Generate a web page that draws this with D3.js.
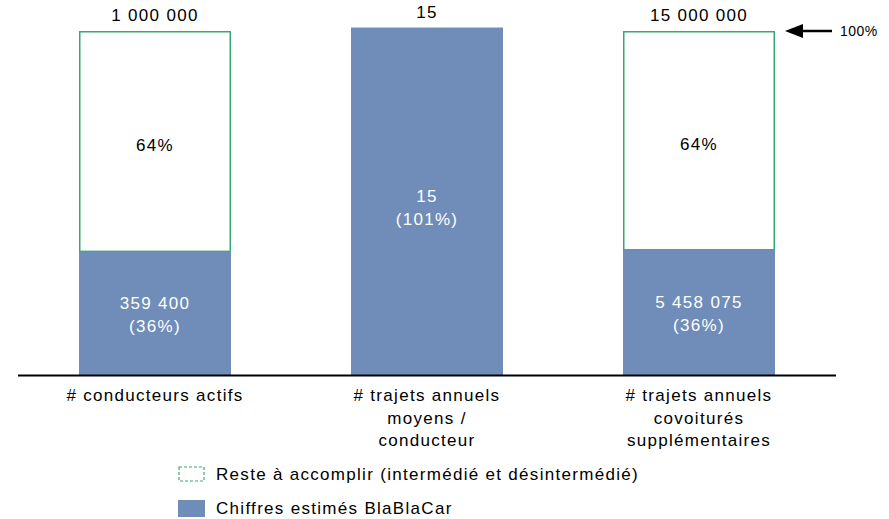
<!DOCTYPE html>
<html><head><meta charset="utf-8">
<script src="https://cdn.jsdelivr.net/npm/d3@7"></script>
<style>body{margin:0;background:#fff}text{font-family:"Liberation Sans",Arial,sans-serif;letter-spacing:1.3px}</style>
</head><body><svg id="c" width="889" height="519"></svg>
<script>
const categories = [["# conducteurs actifs"], ["# trajets annuels", "moyens /", "conducteur"], ["# trajets annuels", "covoiturés", "supplémentaires"]];
const targetLabels = ["1 000 000", "15", "15 000 000"];
const estimatedPct = [35.94, 101, 36.39];
const estimatedLabels = ["359 400", "15", "5 458 075"];
const estimatedPctLabels = ["(36%)", "(101%)", "(36%)"];
const remainingPct = [64.06, 0, 63.61];
const remainingLabels = ["64%", null, "64%"];
const legendItems = ["Reste à accomplir (intermédié et désintermédié)", "Chiffres estimés BlaBlaCar"];

const svg = d3.select("#c");
const blue = "#6f8db8", green = "#36a872";
const xb = d3.scalePoint().domain(d3.range(3)).range([155, 699]);
const bw = 152;
const y = d3.scaleLinear().domain([0, 100]).range([375, 31]);

svg.selectAll("rect.rem").data(remainingPct.map((v,i)=>({v,i})).filter(d=>d.v>0)).join("rect")
  .attr("x", d=>xb(d.i)-bw/2+0.75).attr("width", bw-1.5)
  .attr("y", d=>y(estimatedPct[d.i]+d.v)+0.75).attr("height", d=>y(estimatedPct[d.i])-y(estimatedPct[d.i]+d.v)-0.75)
  .attr("fill","#fff").attr("stroke",green).attr("stroke-width",1.5);
svg.selectAll("rect.est").data(estimatedPct).join("rect")
  .attr("x",(d,i)=>xb(i)-bw/2).attr("width",bw)
  .attr("y",d=>y(d)).attr("height",d=>y(0)-y(d)).attr("fill",blue);

svg.append("line").attr("x1",18).attr("x2",836).attr("y1",375.5).attr("y2",375.5).attr("stroke","#000").attr("stroke-width",2);

const fs = 17;
function txt(xp, yp, t, fill, anchor){
  return svg.append("text").attr("x",xp).attr("y",yp).attr("text-anchor",anchor||"middle").attr("font-size",fs).attr("fill",fill||"#000").text(t);
}
targetLabels.forEach((t,i)=>{
  const top = y(Math.max(estimatedPct[i], estimatedPct[i]+remainingPct[i]));
  txt(xb(i), top-10, t);
});
remainingLabels.forEach((t,i)=>{ if(!t) return;
  const yc = (y(estimatedPct[i]) + y(estimatedPct[i]+remainingPct[i]))/2;
  txt(xb(i), yc+10, t);
});
estimatedLabels.forEach((t,i)=>{
  const yc = i===1 ? 206 : (y(estimatedPct[i])+y(0))/2;
  txt(xb(i), yc-4, t, "#fff");
  txt(xb(i), yc+19, estimatedPctLabels[i], "#fff");
});
categories.forEach((lines,i)=>{
  lines.forEach((l,j)=> txt(xb(i), 401+j*22.5, l));
});
// 100% arrow
svg.append("line").attr("x1",832).attr("x2",800).attr("y1",y(100)).attr("y2",y(100)).attr("stroke","#000").attr("stroke-width",2.5);
svg.append("path").attr("d",`M785,${y(100)} L803,${y(100)-7} L803,${y(100)+7} Z`).attr("fill","#000");
svg.append("text").attr("x",840).attr("y",y(100)+5).attr("font-size",14).style("letter-spacing","0.5px").attr("fill","#000").text("100%");

// legend
svg.append("rect").attr("x",179).attr("y",467).attr("width",25).attr("height",14).attr("fill","#fff").attr("stroke",green).attr("stroke-dasharray","3,2").attr("stroke-width",1.2);
svg.append("rect").attr("x",178).attr("y",500).attr("width",27).attr("height",17).attr("fill",blue);
txt(216, 480, legendItems[0], "#000", "start");
txt(216, 514, legendItems[1], "#000", "start");
</script></body></html>
